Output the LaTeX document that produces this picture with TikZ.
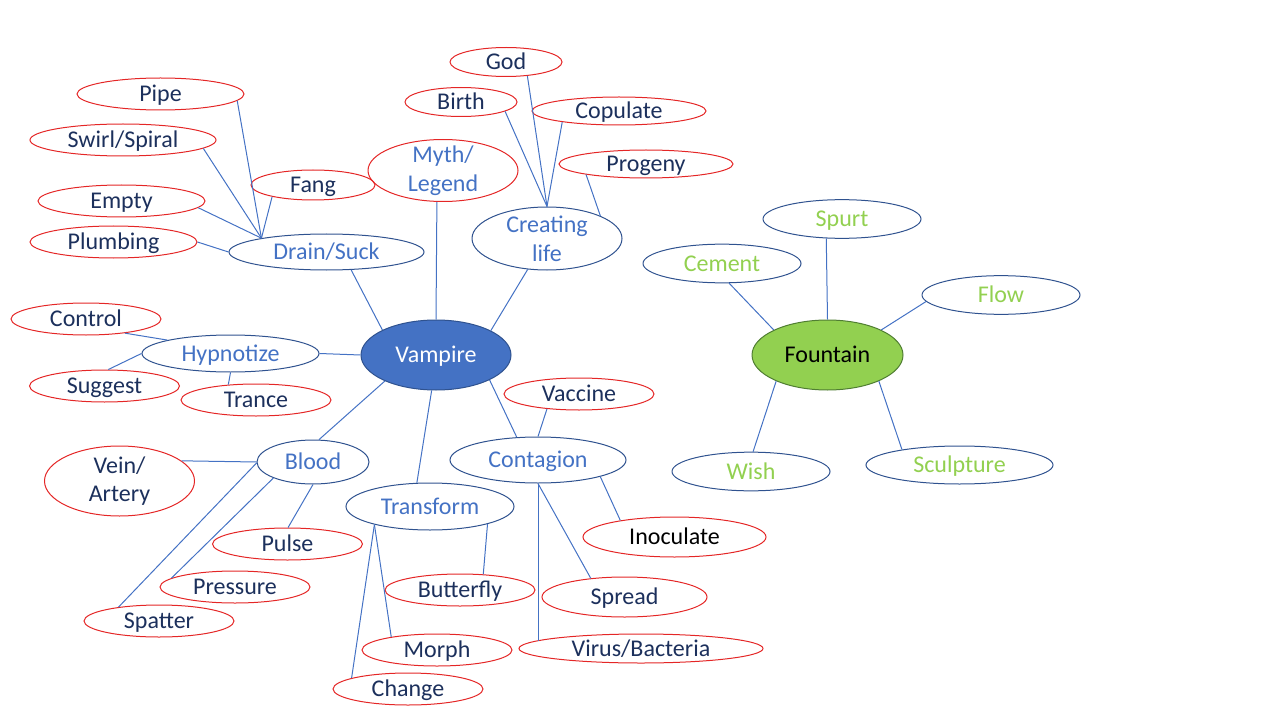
\documentclass[tikz,border=0pt]{standalone}
\usepackage{fontspec}
\setmainfont{Carlito}
\usepackage{xcolor}
\usepackage{tikz}
\usetikzlibrary{shapes.geometric}
\definecolor{linkblue}{RGB}{68,114,196}
\definecolor{rimblue}{RGB}{47,82,143}
\definecolor{rimred}{RGB}{228,38,38}
\definecolor{inknavy}{RGB}{28,48,92}
\definecolor{fountgreen}{RGB}{146,208,80}
\definecolor{rimgreen}{RGB}{80,126,50}

\begin{document}
\begin{tikzpicture}[x=0.75pt, y=-0.75pt,
    bubble/.style={ellipse, inner xsep=0pt, inner ysep=-3pt, line width=0.75pt,
                   font=\fontsize{18}{21.6}\selectfont},
    word/.style={text height=15.8pt, text depth=4pt},
    leaf/.style={bubble, word, draw=rimred, text=inknavy,
                 minimum width=112.5pt, minimum height=24pt},
    topic/.style={bubble, word, draw=rimblue, text=linkblue},
    twoline/.style={bubble, align=center, inner ysep=-5pt},
    spring/.style={bubble, word, draw=rimblue, text=fountgreen,
                   minimum width=118.5pt, minimum height=29pt},
    every edge/.style={draw=linkblue, line width=0.75pt}]
    \useasboundingbox (0,0) rectangle (1280,720);

    % hubs
    \node[bubble, word, fill=linkblue, draw=rimblue, text=white,
          minimum width=112.5pt, minimum height=52.5pt] (vampire) at (436,355) {Vampire};
    \node[bubble, word, fill=fountgreen, draw=rimgreen, text=black,
          minimum width=113.25pt, minimum height=52.5pt] (fountain) at (827.5,355) {Fountain};

    % vampire topics
    \node[topic, minimum width=146.25pt, minimum height=27pt] (drain) at (326.5,252) {Drain/Suck};
    \node[twoline, draw=rimred, text=linkblue, minimum width=112.5pt, minimum height=46.5pt] (myth) at (443,170.5) {Myth/\\Legend};
    \node[twoline, draw=rimblue, text=linkblue, minimum width=112.5pt, minimum height=47.25pt] (creating) at (547,238.5) {Creating\\life};
    \node[topic, minimum width=132.75pt, minimum height=27.75pt] (hypnotize) at (230.5,353.5) {Hypnotize};
    \node[topic, minimum width=84pt, minimum height=33pt] (blood) at (313,462) {Blood};
    \node[topic, minimum width=126pt, minimum height=35.25pt] (transform) at (430,506.5) {Transform};
    \node[topic, minimum width=132pt, minimum height=34.5pt] (contagion) at (538,460) {Contagion};

    % leaves
    \node[leaf, minimum width=125.25pt] (pipe) at (160.5,94) {Pipe};
    \node[leaf, minimum width=139.5pt] (swirl) at (123,140) {Swirl/Spiral};
    \node[leaf, minimum width=93pt, minimum height=22.5pt] (fang) at (313,185) {Fang};
    \node[leaf, minimum width=125.25pt] (empty) at (121.5,201) {Empty};
    \node[leaf, minimum width=125.25pt] (plumbing) at (113.5,242) {Plumbing};
    \node[leaf, minimum width=84pt, minimum height=21.75pt] (god) at (506,62) {God};
    \node[leaf, minimum width=84pt, minimum height=21.75pt] (birth) at (461,102) {Birth};
    \node[leaf, minimum width=130.5pt, minimum height=21pt] (copulate) at (619,111) {Copulate};
    \node[leaf, minimum width=130.5pt, minimum height=21pt] (progeny) at (646,164) {Progeny};
    \node[leaf] (control) at (86,319) {Control};
    \node[leaf] (suggest) at (104.5,386) {Suggest};
    \node[leaf] (trance) at (256,400) {Trance};
    \node[twoline, draw=rimred, text=inknavy, minimum width=112.5pt, minimum height=52.5pt] (vein) at (119.5,481) {Vein/\\Artery};
    \node[leaf] (pulse) at (287.5,544) {Pulse};
    \node[leaf] (pressure) at (235,587) {Pressure};
    \node[leaf] (spatter) at (159,621) {Spatter};
    \node[leaf] (butterfly) at (460,590) {Butterfly};
    \node[leaf] (morph) at (437,650) {Morph};
    \node[leaf] (change) at (408,689) {Change};
    \node[leaf] (vaccine) at (579,394) {Vaccine};
    \node[leaf, text=black, minimum width=137.25pt, minimum height=30pt] (inoculate) at (674.5,537) {Inoculate};
    \node[leaf, minimum width=123.75pt, minimum height=30pt] (spread) at (624.5,597) {Spread};
    \node[leaf, minimum width=183pt, minimum height=21.75pt] (virus) at (641,648.5) {Virus/Bacteria};

    % fountain ring
    \node[spring] (spurt) at (842,219) {Spurt};
    \node[spring] (cement) at (722,263.5) {Cement};
    \node[spring] (flow) at (1001,295) {Flow};
    \node[spring] (wish) at (751,471.5) {Wish};
    \node[spring, minimum width=140.25pt, minimum height=28.5pt] (sculpture) at (959.5,465) {Sculpture};

    \path (pipe.-5) edge (drain.168)
          (swirl.-6) edge (drain.168)
          (empty.-5) edge (drain.168)
          (fang.196) edge (drain.168)
          (plumbing.0) edge (drain.180)
          (drain.-36) edge (vampire.155)
          (myth.-101) edge (vampire.90)
          (god.-33) edge (creating.90)
          (birth.-12) edge (creating.90)
          (copulate.191) edge (creating.90)
          (progeny.190) edge (creating.23)
          (creating.238) edge (vampire.24)
          (control.-20) edge (hypnotize.168)
          (suggest.77) edge (hypnotize.180)
          (trance.151) edge (hypnotize.270)
          (hypnotize.0) edge (vampire.180)
          (vampire.207) edge (blood.75)
          (vampire.263) edge (transform.119)
          (vampire.-25) edge (contagion.133)
          (vaccine.205) edge (contagion.90)
          (contagion.-15) edge (inoculate.163)
          (contagion.270) edge (spread.151)
          (contagion.270) edge (contagion.270 |- virus.176)
          (vein.18) edge (blood.180)
          (blood.181) edge (spatter.161)
          (blood.202) edge (pressure.172)
          (blood.270) edge (pulse.88)
          (transform.-17) edge (butterfly.34)
          (transform.198) edge (morph.164)
          (transform.198) edge (change.169);

    \path (spurt.231) edge (fountain.90)
          (cement.-70) edge (fountain.155)
          (flow.185) edge (fountain.25)
          (fountain.207) edge (wish.84)
          (fountain.-27) edge (sculpture.165);
\end{tikzpicture}
\end{document}
